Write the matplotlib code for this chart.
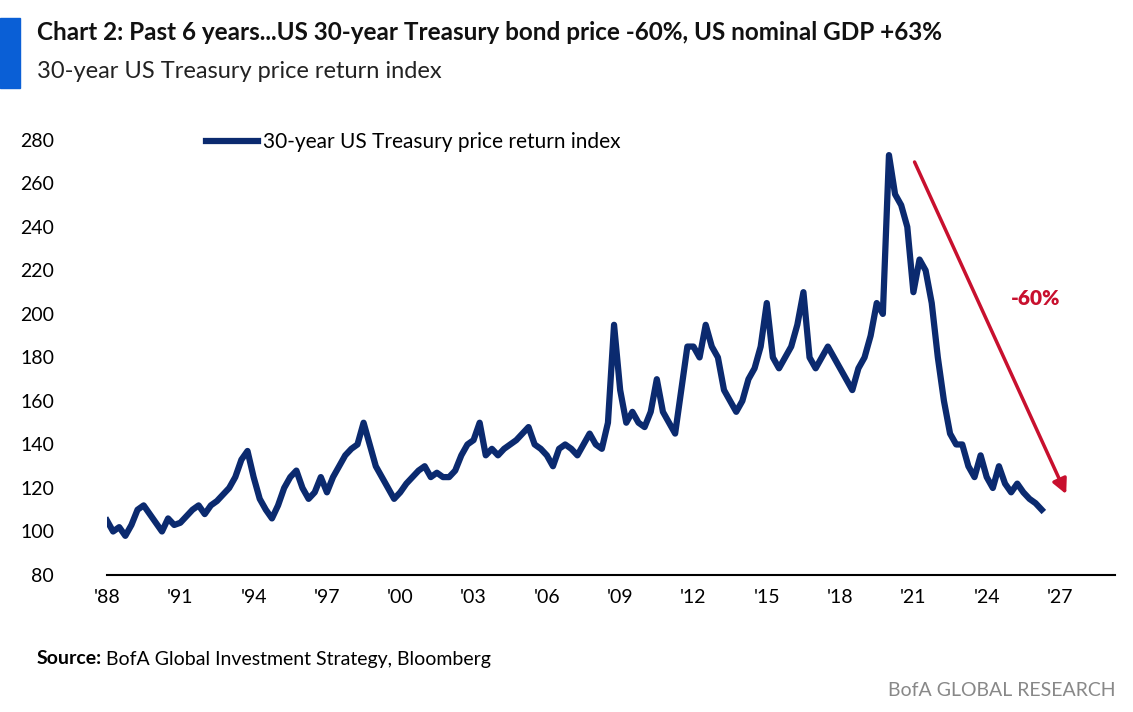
import matplotlib
matplotlib.use("Agg")
import matplotlib.pyplot as plt
import numpy as np

plt.rcParams['font.family'] = ['Lato', 'DejaVu Sans']

start_year = 1988
quarterly_values = [
    105,100,102,98, 103,110,112,108, 104,100,106,103, 104,107,110,112,
    108,112,114,117, 120,125,133,137, 125,115,110,106, 112,120,125,128,
    120,115,118,125, 118,125,130,135, 138,140,150,140, 130,125,120,115,
    118,122,125,128, 130,125,127,125, 125,128,135,140, 142,150,135,138,
    135,138,140,142, 145,148,140,138, 135,130,138,140, 138,135,140,145,
    140,138,150,195, 165,150,155,150, 148,155,170,155, 150,145,165,185,
    185,180,195,185, 180,165,160,155, 160,170,175,185, 205,180,175,180,
    185,195,210,180, 175,180,185,180, 175,170,165,175, 180,190,205,200,
    273,255,250,240, 210,225,220,205, 180,160,145,140, 140,130,125,135,
    125,120,130,122, 118,122,118,115, 113,110,
]
xticks = list(range(1988, 2028, 3))
xticklabels = ["'" + str(y)[2:] for y in xticks]

t = start_year + np.arange(len(quarterly_values)) / 4.0
navy = '#0B2A6F'
red = '#C8102E'

fig = plt.figure(figsize=(11.33, 7.12), dpi=100)
ax = fig.add_axes([107/1133, 1-575/712, (1115-107)/1133, (575-129)/712])
ax.plot(t, quarterly_values, color=navy, lw=4.5, solid_joinstyle='round',
        label='30-year US Treasury price return index')
ax.set_xlim(1988, 2029.25)
ax.set_ylim(80, 285)
ax.set_yticks(range(80, 281, 20))
ax.set_xticks(xticks)
ax.set_xticklabels(xticklabels)
for s in ['top', 'right', 'left']:
    ax.spines[s].set_visible(False)
ax.spines['bottom'].set_linewidth(1.5)
ax.tick_params(axis='both', length=0, labelsize=14, pad=10)
ax.tick_params(axis='y', pad=38)
ax.legend(loc='upper left', bbox_to_anchor=(0.08, 1.035), frameon=False, fontsize=15,
          handlelength=2.5, handletextpad=0.2)

ax.annotate('', xy=(2027.3, 116), xytext=(2021.0, 271),
            arrowprops=dict(arrowstyle='-|>', color=red, lw=2.5, mutation_scale=22))
ax.text(2026.0, 207, '-60%', color=red, fontsize=15, fontweight='heavy', ha='center', va='center')

fig.patches.append(plt.Rectangle((0, 1-88/712), 20/1133, 70/712, transform=fig.transFigure,
                                 color='#0A5FD6'))
fig.text(37/1133, 1-33/712, 'Chart 2: Past 6 years...US 30-year Treasury bond price -60%, US nominal GDP +63%',
         fontsize=17.5, fontweight='bold', va='center', color='#111111')
fig.text(37/1133, 1-71/712, '30-year US Treasury price return index', fontsize=17, va='center',
         color='#222222')
src = fig.text(37/1133, 1-659/712, 'Source:', fontsize=14, fontweight='bold', va='center')
fig.canvas.draw()
bb = src.get_window_extent()
fig.text((bb.x1 + 4)/1133, 1-659/712, 'BofA Global Investment Strategy, Bloomberg', fontsize=14,
         va='center')
fig.text(1116/1133, 1-691/712, 'BofA GLOBAL RESEARCH', fontsize=14, va='center', ha='right', color='#888888')
fig.savefig('out.png', dpi=100)
